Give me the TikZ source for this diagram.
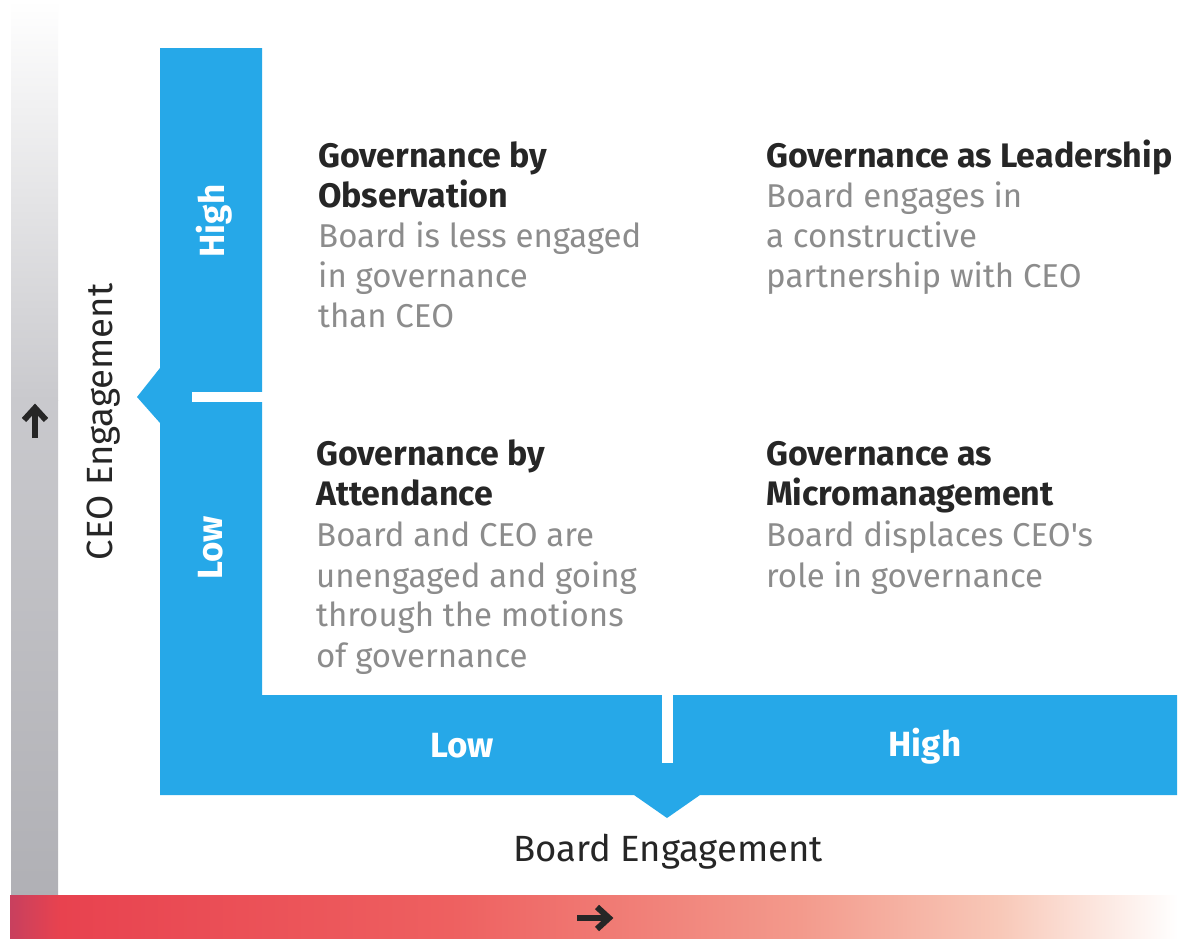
\documentclass[tikz,border=0pt]{standalone}
\usepackage{fontspec}
\setmainfont{Fira Sans}
\newfontfamily\condfont{Fira Sans}
\newfontfamily\axfont{Fira Sans}
\usetikzlibrary{arrows.meta}
\definecolor{blueL}{RGB}{38,168,232}
\definecolor{titlec}{RGB}{38,38,38}
\definecolor{descc}{RGB}{140,140,140}
\definecolor{grayA}{RGB}{201,201,205}
\definecolor{grayB}{RGB}{176,176,181}
\definecolor{redA}{RGB}{200,64,94}
\definecolor{redB}{RGB}{232,66,79}
\definecolor{redC}{RGB}{238,96,96}
\definecolor{redD}{RGB}{243,154,140}
\definecolor{redE}{RGB}{248,200,184}
\begin{document}
\begin{tikzpicture}[x=1pt,y=-1pt,
  lab/.style={inner sep=0pt, anchor=base west},
  ttl/.style={lab, text=titlec, font=\condfont\bfseries\fontsize{34}{40}\selectfont},
  dsc/.style={lab, text=descc, font=\condfont\fontsize{33}{40}\selectfont},
  barlab/.style={inner sep=0pt, text=white, font=\condfont\bfseries\fontsize{35}{40}\selectfont},
  axlab/.style={inner sep=0pt, text=titlec, font=\axfont\fontsize{36.5}{40}\selectfont},
  arr/.style={line width=6pt, draw=titlec, miter limit=10}
]
\useasboundingbox (0,0) rectangle (1178,938);
\fill[white] (0,0) rectangle (1178,938);
% grey vertical band
\shade[top color=white, bottom color=grayA] (11,0) rectangle (58,400);
\shade[top color=grayA, bottom color=grayB] (11,400) rectangle (58,900);
% red horizontal band
\shade[left color=redA, right color=redB] (10,895) rectangle (60,938);
\shade[left color=redB, right color=redC] (60,895) rectangle (450,938);
\shade[left color=redC, right color=redD] (450,895) rectangle (800,938);
\shade[left color=redD, right color=redE] (800,895) rectangle (1000,938);
\shade[left color=redE, right color=white] (1000,895) rectangle (1178,938);
% blue L frame
\fill[blueL] (160,48) -- (262,48) -- (262,695) -- (1177,695) -- (1177,795)
  -- (700,795) -- (667,818) -- (634,795) -- (160,795) -- (160,423)
  -- (137,397) -- (160,368) -- cycle;
\fill[white] (192,392) rectangle (263,402);
\fill[white] (662,694) rectangle (673,763);
% bar labels
\node[barlab, rotate=90] (hiV) at (214,221) {High};
\node[barlab, rotate=90] (loV) at (211,548) {Low};
\node[barlab] (loH) at (462,746) {Low};
\node[barlab] (hiH) at (925,746) {High};
% axis labels
\node[axlab, rotate=90] (ceo) at (104,422) {CEO Engagement};
\node[axlab] (board) at (668,852) {Board Engagement};
% arrows
\coordinate (upA) at (35,438);
\coordinate (upB) at (35,408);
\coordinate (upL) at (24,420);
\coordinate (upR) at (46,420);
\draw[arr] (upA) -- (upB);
\draw[arr] (upL) -- (upB) -- (upR);
\coordinate (rtA) at (577,918);
\coordinate (rtB) at (609,918);
\coordinate (rtT) at (597,907);
\coordinate (rtD) at (597,929);
\draw[arr] (rtA) -- (rtB);
\draw[arr] (rtT) -- (rtB) -- (rtD);
% quadrant texts
\node[ttl] (a1) at (318,167) {Governance by};
\node[ttl] (a2) at (318,207) {Observation};
\node[dsc] (a3) at (318,247) {Board is less engaged};
\node[dsc] (a4) at (318,287) {in governance};
\node[dsc] (a5) at (318,327) {than CEO};
\node[ttl] (b1) at (766,167) {Governance as Leadership};
\node[dsc] (b2) at (766,207) {Board engages in};
\node[dsc] (b3) at (766,247) {a constructive};
\node[dsc] (b4) at (766,287) {partnership with CEO};
\node[ttl] (c1) at (316,465) {Governance by};
\node[ttl] (c2) at (316,505) {Attendance};
\node[dsc] (c3) at (316,546) {Board and CEO are};
\node[dsc] (c4) at (316,587) {unengaged and going};
\node[dsc] (c5) at (316,626) {through the motions};
\node[dsc] (c6) at (316,667) {of governance};
\node[ttl] (d1) at (766,465) {Governance as};
\node[ttl] (d2) at (766,505) {Micromanagement};
\node[dsc] (d3) at (766,546) {Board displaces CEO's};
\node[dsc] (d4) at (766,587) {role in governance};
\end{tikzpicture}
\end{document}
